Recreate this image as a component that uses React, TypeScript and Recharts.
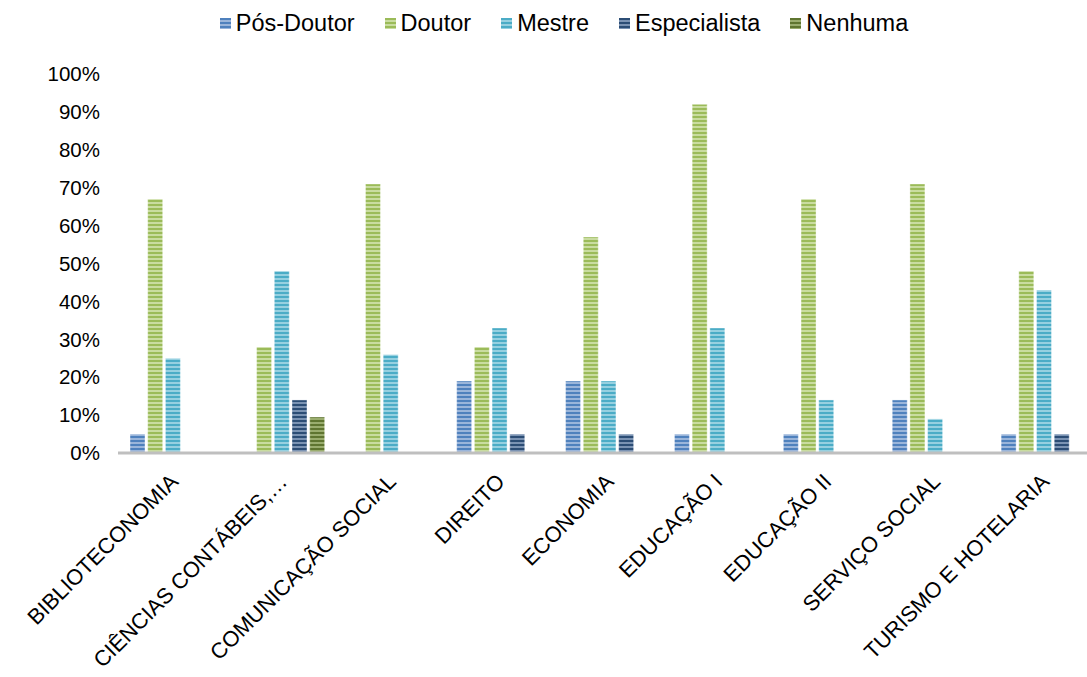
import React from 'react';
import { BarChart, Bar, XAxis, YAxis } from 'recharts';

const categories = [
  'BIBLIOTECONOMIA',
  'CIÊNCIAS CONTÁBEIS,…',
  'COMUNICAÇÃO SOCIAL',
  'DIREITO',
  'ECONOMIA',
  'EDUCAÇÃO I',
  'EDUCAÇÃO II',
  'SERVIÇO SOCIAL',
  'TURISMO E HOTELARIA',
];

const posDoutor = [5, 0, 0, 19, 19, 5, 5, 14, 5];
const doutor = [67, 28, 71, 28, 57, 92, 67, 71, 48];
const mestre = [25, 48, 26, 33, 19, 33, 14, 9, 43];
const especialista = [0, 14, 0, 5, 5, 0, 0, 0, 5];
const nenhuma = [0, 9.5, 0, 0, 0, 0, 0, 0, 0];

const yTicks = [0, 10, 20, 30, 40, 50, 60, 70, 80, 90, 100];

const FONT = '"Liberation Sans", Arial, sans-serif';

const series = [
  { key: 'pos', name: 'Pós-Doutor', values: posDoutor, dark: '#4F81BD', light: '#9AB5DA' },
  { key: 'dout', name: 'Doutor', values: doutor, dark: '#9BBB59', light: '#C9DCA0' },
  { key: 'mes', name: 'Mestre', values: mestre, dark: '#4BACC6', light: '#96D0E0' },
  { key: 'esp', name: 'Especialista', values: especialista, dark: '#2C4D75', light: '#7B93B3' },
  { key: 'nen', name: 'Nenhuma', values: nenhuma, dark: '#5F7530', light: '#9AAD6E' },
];

const data = categories.map((cat, i) => {
  const row: Record<string, string | number> = { cat };
  series.forEach((s) => {
    row[s.key] = s.values[i];
  });
  return row;
});

function XTick(props: any) {
  const { x, y, payload } = props;
  const tx = x + 7;
  const ty = y + 22;
  return (
    <text
      x={tx}
      y={ty}
      transform={`rotate(-45, ${tx}, ${ty})`}
      textAnchor="end"
      fontSize={21.8}
      fontFamily={FONT}
      fill="#000"
    >
      {payload.value}
    </text>
  );
}

function Legend() {
  return (
    <div
      style={{
        position: 'absolute',
        top: 10,
        left: 0,
        width: 1087,
        display: 'flex',
        justifyContent: 'center',
        gap: 30,
        fontFamily: FONT,
        fontSize: 23.5,
        color: '#000',
        paddingLeft: 41,
        boxSizing: 'border-box',
      }}
    >
      {series.map((s) => (
        <span key={s.key} style={{ display: 'flex', alignItems: 'center', gap: 5 }}>
          <svg width={11} height={11}>
            <rect width={11} height={11} fill={`url(#stripe-${s.key})`} />
          </svg>
          {s.name}
        </span>
      ))}
    </div>
  );
}

export default function App() {
  return (
    <div
      style={{
        position: 'absolute',
        left: 0,
        top: 0,
        width: 1087,
        height: 677,
        overflow: 'hidden',
        background: '#fff',
      }}
    >
      <svg width={0} height={0} style={{ position: 'absolute' }}>
        <defs>
          {series.map((s) => (
            <pattern
              key={s.key}
              id={`stripe-${s.key}`}
              width={4}
              height={4}
              patternUnits="userSpaceOnUse"
            >
              <rect width={4} height={4} fill={s.light} />
              <rect width={4} height={2} fill={s.dark} />
            </pattern>
          ))}
        </defs>
      </svg>
      <Legend />
      <BarChart
        width={1098}
        height={677}
        data={data}
        margin={{ top: 74, right: 0, bottom: 0, left: 0 }}
        barSize={15}
        barGap={2.7}
      >
        <XAxis
          dataKey="cat"
          interval={0}
          tickLine={false}
          axisLine={{ stroke: '#BFBFBF', strokeWidth: 3 }}
          tick={<XTick />}
          height={224}
        />
        <YAxis
          domain={[0, 100]}
          ticks={yTicks}
          interval={0}
          width={118}
          axisLine={false}
          tickLine={false}
          tickMargin={12}
          tickFormatter={(v: number) => `${v}%`}
          tick={{ fontSize: 20.5, fontFamily: FONT, fill: '#000' }}
        />
        {series.map((s) => (
          <Bar
            key={s.key}
            dataKey={s.key}
            name={s.name}
            fill={`url(#stripe-${s.key})`}
            stroke="#ffffff"
            strokeOpacity={0.4}
            strokeWidth={1}
            isAnimationActive={false}
          />
        ))}
      </BarChart>
    </div>
  );
}
